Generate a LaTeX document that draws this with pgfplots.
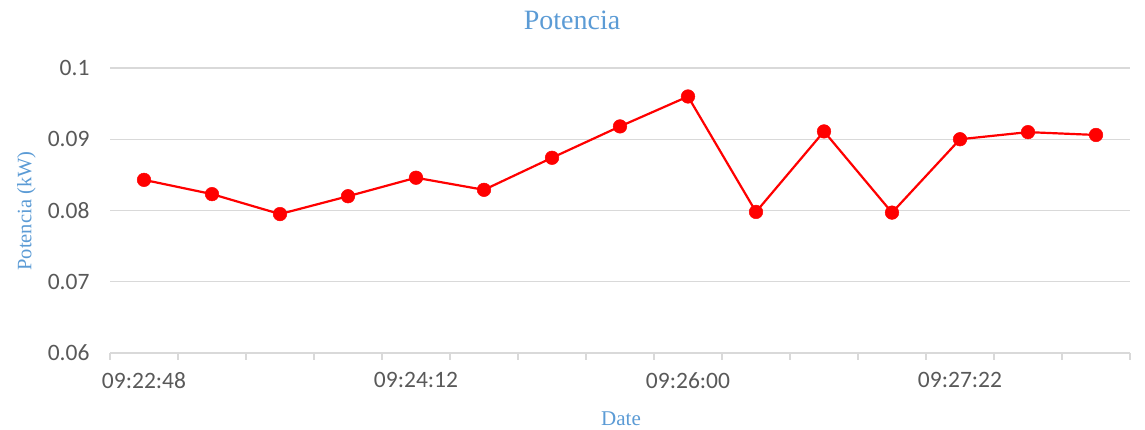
\documentclass[border=0pt]{standalone}
\usepackage{fontspec}
\setmainfont{Liberation Serif}
\newfontfamily\calibri{Carlito}
\usepackage{pgfplots}
\pgfplotsset{compat=1.18}
\definecolor{titleblue}{HTML}{5B9BD5}
\definecolor{gridgray}{HTML}{D9D9D9}
\definecolor{ticktext}{HTML}{595959}
\begin{document}
\begin{tikzpicture}
\begin{axis}[
  at={(0pt,0pt)}, anchor=south west,
  scale only axis, width=1020pt, height=285pt,
  xmin=-0.5, xmax=14.5, ymin=0.06, ymax=0.1,
  axis x line*=bottom, axis y line*=left,
  y axis line style={draw=none},
  x axis line style={gridgray, line width=1.5pt},
  ymajorgrids, grid style={gridgray, line width=1.3pt},
  tick align=outside, major tick length=7pt,
  xtick={-0.5,0.5,...,14.5}, xticklabels={},
  xtick style={gridgray, line width=1.5pt},
  extra x ticks={0,4,8,12},
  extra x tick labels={09:22:48,09:24:12,09:26:00,09:27:22},
  extra x tick style={major tick length=0pt, xticklabel style={yshift=-16pt}},
  ytick={0.06,0.07,0.08,0.09,0.1},
  yticklabels={0.06,0.07,0.08,0.09,0.1},
  ytick style={draw=none},
  yticklabel style={xshift=-10pt},
  tick label style={font=\calibri\fontsize{23.5}{28}\selectfont, text=ticktext},
  clip=false,
]
\addplot[red, line width=2.2pt, mark=*, mark size=6.8pt, mark options={fill=red, draw=red, line width=0.5pt}] coordinates {
(0,0.0843) (1,0.0823) (2,0.0795) (3,0.0820) (4,0.0846) (5,0.0829) (6,0.0874)
(7,0.0918) (8,0.0960) (9,0.0798) (10,0.0911) (11,0.0797) (12,0.0900) (13,0.0910) (14,0.0906)
};
\end{axis}
\node[font=\fontsize{28}{34}\selectfont, text=titleblue, anchor=base] at (462pt,323pt) {Potencia};
\node[font=\fontsize{21}{25}\selectfont, text=titleblue, anchor=base] at (511pt,-72.7pt) {Date};
\node[font=\fontsize{20.5}{25}\selectfont, text=titleblue, rotate=90, anchor=center] at (-83.5pt,142pt) {Potencia (kW)};
\path (-110pt,-76pt) rectangle (1035pt,353pt);
\end{tikzpicture}
\end{document}
